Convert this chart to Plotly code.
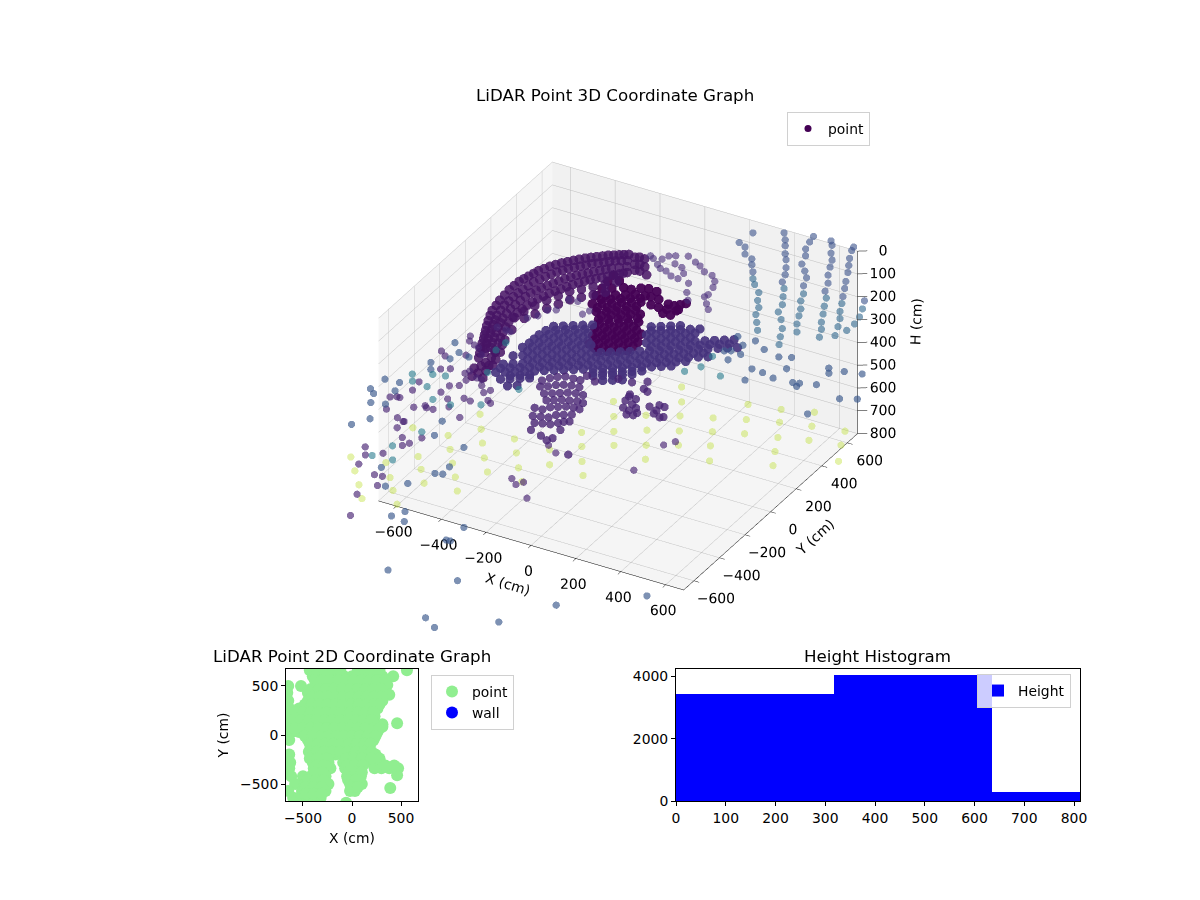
import plotly.graph_objects as go

FONT = "DejaVu Sans"

# floor returns inside the box (cm)
floor_x = [-601,-667,-589,-651,-448,-507,-569,-628,-418,-481,-543,-599,-659,-266,-329,-392,-451,-236,-292,-83,-139,-196,-249,-92,-145,-201,-258,66,16,-38,-97,124,74,20,-27,-83,288,234,188,139,304,257,206,519,473,430,379,545,502,671,632]
floor_y = [-673,-590,-483,-398,-471,-383,-297,-211,-288,-202,-108,-19,77,-286,-201,-107,-19,-121,-23,-128,-38,60,152,129,221,319,417,98,192,292,388,254,349,449,545,643,211,311,407,500,456,552,655,301,397,495,598,536,634,566,665]
floor_h = [795] * len(floor_x)
# floor returns beyond the box limits
floor_out_x = [-729,-799,-713,-839,-691,332,454,719,-938,-873,-807,-745]
floor_out_y = [-504,-414,-312,-133,-116,693,738,462,-444,-527,-611,-696]
floor_out_h = [800] * len(floor_out_x)

# right hand scan lines behind the room, top part and lower part
wall_up_x = [202,141,167,167,197,197,202,341,346,346,346,350,350,346,333,472,455,437,437,420,433,441,428,550,555,550,555,546,537,537,524,651,642,633,629,625,616,611,603,699]
wall_up_y = [700] * len(wall_up_x)
wall_up_h = [67,127,139,170,182,208,238,27,56,82,117,142,177,209,244,5,34,70,100,141,168,195,234,2,20,56,85,118,156,191,230,0,18,55,87,119,161,193,231,222]
wall_low_x = [202,210,228,223,228,215,219,223,341,337,333,315,328,333,324,319,428,415,415,407,398,398,529,520,515,507,507,498,598,590,590,581,568,690,677,655,620]
wall_low_y = [700] * len(wall_low_x)
wall_low_h = [268,291,321,357,387,421,454,488,271,308,344,381,411,449,487,523,269,304,339,372,410,445,259,297,333,371,402,439,263,300,331,369,412,260,299,336,374]

# ceiling arc
dome_x = [-452,-482,-507,-531,-559,-584,-597,-604,-602,-590,-577,-555,-528,-498,-467,-433,-400,-365,-334,-452,-479,-504,-528,-550,-563,-564,-560,-551,-532,-510,-484,-453,-423,-388,-355,-317,-451,-476,-502,-520,-529,-527,-520,-504,-481,-458,-432,-402,-371,-341,-295,-411,-442,-467,-486,-492,-486,-474,-456,-433,-410,-383,-354,-324,-293,-272,-410,-417,-482,-474,-458,-438,-416,-394,-363,-333,-302,-272,-429,-414,-389,-398,-380,-406,-363,-304,-277,-254,-288,-261,-235,-264,-234,-198,
          -467,-495,-519,-545,-572,-590,-600,-603,-596,-583,-566,-542,-513,-483,-450,-416,-382,-350,-466,-492,-516,-539,-557,-564,-562,-556,-541,-521,-497,-468,-438,-405,-372,-336,-464,-489,-511,-525,-528,-524,-512,-492,-470,-445,-417,-387,-356,-318,-427,-455,-477,-489,-489,-480,-465,-445,-422,-397,-369,-339,-309,-283,
          -447,-427,-408,-385,-363,-333,-303,-272,-446,-431,-401,-376,-390,-421]
dome_y = [-297,-227,-162,-105,-34,40,122,209,282,336,390,441,486,525,563,594,626,649,670,-252,-188,-115,-50,18,100,171,238,307,365,417,461,499,538,570,602,627,-206,-133,-58,11,87,160,229,284,336,388,432,471,509,547,587,-270,-163,-81,-3,75,142,204,262,313,365,410,448,486,524,548,-315,-228,36,96,153,210,262,313,351,389,428,466,-373,-345,-328,-397,-367,-430,-420,663,617,578,673,627,582,671,619,570,
          -262,-195,-134,-70,3,81,165,246,309,363,415,464,505,544,578,610,637,660,-220,-152,-83,-16,59,135,205,272,336,391,439,480,518,554,586,615,-170,-96,-24,49,123,195,257,310,362,410,452,490,528,567,-217,-122,-42,36,108,173,233,288,339,388,429,467,505,536,
          50,100,158,209,260,298,337,376,-49,-129,-218,-320,-274,-168]
dome_h = [300] * len(dome_x)

# chains right of the arc and returns under it
chain_x = [-256,-236,-200,-176,-193,-171,-127,-81,-51,-15,25,56,73,84,79,112,140,-25,3,36,-144,-107,-78,-78,-111,-146,-204,-437,-410,-398,-370,-366,-330,-266,-255,-445,-465,-505]
chain_y = [703,690,659,639,736,751,772,747,731,701,692,658,615,558,537,495,460,595,532,482,697,686,650,605,609,632,703,57,93,147,166,258,264,189,224,-66,-61,-60]
chain_h = [300] * len(chain_x)

# dark mass in the middle
mass_x = [-308,-305,-267,-297,-265,-227,-195,-167,-139,-101,-290,-258,-227,-195,-164,-124,-272,-241,-209,-178,-146,-115,-71,-35,-2,11,27,42,1,33,37,-229,-197,-166,-134,-103,-192,-161,-129,-98,-66,-175,-143,-112,-80,-49,-151,-120,-88,-57,-25,6,-133,-101,-70,-38,-7,25,-74,-43,-11,20,
          -259,-228,-196,-165,-133,-240,-209,-177,-146,-114,-198,-167,-135,-104,-72,-174,-143,-111,-80,-48,-150,-119,-87,-56,-24,-127,-96,-64,-33,-1,-102,-71,-39,-8,24,-101,-65,-15,39]
mass_y = [506,454,479,395,416,442,445,472,483,480,337,358,379,400,421,429,276,297,318,339,360,381,382,379,383,420,438,458,349,352,391,232,253,274,295,316,184,205,226,247,268,123,144,165,186,207,66,87,108,129,150,171,6,27,48,69,90,111,-28,-7,14,35,
          321,342,363,384,405,260,281,302,323,344,216,237,258,279,300,160,181,202,223,244,103,124,145,166,187,47,68,89,110,131,-10,11,32,53,74,434,432,420,402]
mass_h = [300] * len(mass_x)

# wide sheet across the room
sheet_x = [-328,-297,-265,-234,-202,12,43,75,106,-336,-305,-273,-242,-210,-179,26,57,89,120,152,183,-344,-312,-281,-249,-218,-186,-155,-123,56,87,119,150,182,213,245,276,308,339,-344,-313,-281,-250,-218,-187,-155,-124,-92,-61,-30,2,33,65,96,128,159,191,222,254,285,317,348,380,-346,-314,-283,-251,-220,-188,-157,-125,-94,-62,-31,0,32,63,95,126,158,189,221,252,284,315,-341,-310,-278,-247,-215,-184,-152,-121,-89,-58,-26,5,37,68,100,131,163,194,226,-299,-268,-236,-205,0,31,63,94,126,-250,-219,
           -282,-251,-219,-188,-156,-125,-93,-62,-30,1,33,64,96,127,159,190,222,253,285,-313,-282,-250,-219,-187,-156,-124,87,118,150,181,213,244,276,307,339,-340,-309,-277,-246,-214,-183,-151,-120,-88,-57,-25,6,38,69,101,132,164,195,227,258,-337,-305,-274,-242,-211,-179,-148,57,88,120,151,183,
           -335,-304,-272,-241,-209,-178,27,58,90,121,153,184,-318,-287,-255,-224,-192,-279,-247,-216,-11,20,52,83,115,146,50,82,113]
sheet_y = [12,33,54,75,96,238,259,280,301,-66,-45,-24,-3,18,39,176,197,218,239,260,281,-144,-123,-102,-81,-60,-39,-18,3,123,144,165,186,207,228,249,270,291,312,-217,-196,-175,-154,-133,-112,-91,-70,-49,-28,-7,14,35,56,77,98,119,140,161,182,203,224,245,266,-291,-270,-249,-228,-207,-186,-165,-144,-123,-102,-81,-60,-39,-18,3,24,45,66,87,108,129,150,-359,-339,-318,-297,-276,-255,-234,-213,-192,-171,-150,-129,-108,-87,-66,-45,-24,-3,18,-395,-374,-353,-332,-196,-175,-154,-133,-112,-426,-405,
           -212,-191,-170,-149,-128,-107,-86,-65,-44,-23,-2,19,40,61,82,103,124,145,166,-159,-138,-117,-96,-75,-54,-33,107,128,149,170,191,212,233,254,275,-323,-302,-281,-260,-239,-218,-197,-176,-155,-134,-113,-92,-71,-50,-29,-8,13,34,55,76,-103,-82,-61,-40,-19,2,23,159,180,201,222,243,
           -29,-8,13,34,55,76,212,233,254,275,296,317,54,75,96,117,138,-354,-333,-312,-176,-155,-134,-113,-92,-71,-208,-187,-166]
sheet_h = [300] * len(sheet_x)

# lump under the sheet and small clusters
lump_x = [-239,-222,-201,-175,-142,-112,-223,-198,-176,-151,-122,-89,-184,-158,-133,-108,-79,-47,-151,-126,-101,-72,-43,-17,-162,-130,-112,-87,-61,-32,-6,-138,-109,-80,-63,-38,-12,7,-106,-77,-48,-27,-12,-92,-37,0,12,7,126,135,165,180,153,172,197,202,116,113,220,260,294,306,257,248,272,108,146,134,157,-58,-106,11,70,120]
lump_y = [-175,-144,-121,-104,-101,-99,-218,-201,-177,-161,-151,-147,-256,-239,-222,-205,-194,-191,-296,-280,-263,-253,-243,-244,-368,-364,-334,-317,-300,-291,-291,-425,-414,-404,-374,-358,-341,-391,-467,-456,-446,-422,-404,-520,-539,-558,-533,-464,-611,-197,-204,-175,-158,-236,-228,-206,-146,-112,-140,-177,-191,-182,-151,-112,-114,-97,-117,-34,-46,-80,-58,-17,-14,20]
lump_h = [400] * len(lump_x)

# scattered returns, by shade
purple_x = [-688,-657,-623,-592,-590,-631,-647,-600,-576,-540,-518,-526,-496,-499,-531,-536,-488,-454,-435,-404,-469,-446,-423,-390,-376,-347,-327,-648,-639,-689,-667,-654,-656,-587,-571,-538,-527,-498,-550,-378,-550,-553,-496,-429,-466,-451,-586,-555,-502,-543,-451,-418,-400,-436,-379,26,62,79,150,78,25,405,411,438]
purple_y = [-174,-199,-294,-273,-154,-54,-20,-71,-81,-121,-251,-275,-318,-366,-387,-445,-476,-526,-441,-447,-282,-285,-324,-366,-338,-409,-423,-419,-486,-574,-559,-559,-661,-696,-596,-564,-575,-573,-708,-575,-762,-710,-817,-782,-869,-841,-949,-1002,-957,-1075,-1114,-1110,-1180,-1276,-1428,-877,-908,-878,-976,-624,-587,-588,-365,-321]
purple_h = [400] * len(purple_x)
slate_x = [-674,-623,-573,-681,-630,-711,-773,-786,-757,-695,-678,-733,-675,-716,-655,-423,-396,-455,-371,-306,-252,-223,-228,-252,-210,-239,-175,47,35,52,-48,225,257,323,519,649,919,442,473,529,539,514,469,392,330,254,304,263,285,331,309,679,698,744,813,699,611,637,639,423,830,891,779]
slate_y = [-93,-150,-161,-269,-208,-461,-467,-557,-583,-524,-630,-648,-755,-828,-315,-633,-741,-1053,-1169,-1108,-990,-980,-919,-764,-1298,-1353,-1365,-1289,-1406,-1404,-1715,-1651,-1956,-2003,-1844,-1623,-1388,217,300,284,372,455,434,455,495,490,442,369,383,378,318,456,423,463,482,324,293,301,275,304,276,307,115]
slate_h = [400] * len(slate_x)
teal_x = [-700,-673,-630,-581,-603,-536,-456,-354,-284,-503,-508,-453,-452,-498,-445,-530,244,344,206,244]
teal_y = [-381,-427,-344,-330,-435,-508,-509,-451,-277,4,-63,-226,-742,-890,-982,-993,220,196,159,311]
teal_h = [400] * len(teal_x)

hist_left = [0, 318, 636]
hist_width = [318, 318, 176]
hist_count = [3430, 4040, 280]

# top view, same points as green discs
point_x = [-400,-320,-240,-160,-80,0,80,160,240,310,420,-300,-220,-140,-60,20,100,180,260,360,-650,-520,-660,-450,-370,-290,-210,-130,-50,30,110,190,270,380,-650,-450,-370,-290,-210,-130,-50,30,110,190,270,310,-640,-540,-450,-370,-290,-210,-130,-50,30,110,190,260,-620,-540,-460,-380,-300,-220,-140,-60,20,100,180,230,-640,-560,-480,-400,-320,-240,-160,-80,0,80,160,240,310,460,-620,-540,-460,-380,-300,-220,-140,-60,20,100,180,260,310,-640,-450,-380,-300,-220,-140,-60,20,100,170,220,-420,-340,-260,-180,-100,-20,60,-640,-410,-330,-250,-170,-90,-10,80,170,240,-630,-400,-320,-240,-90,-10,60,140,220,290,-640,-390,-310,-220,-70,10,90,230,300,380,470,-620,-500,-420,-340,-270,-50,30,90,460,-580,-480,-400,-320,-240,-20,50,100,-650,-510,-430,-350,-270,30,-20,390,-600,-540,-460,-380,-320,-60,-590,560,
           -430,-360,-280,-200,-120,60,130,200,280,-380,-300,-220,-140,-60,20,100,180,260,340,-420,-340,-260,-180,-100,-20,60,140,220,300,-410,-330,-250,-170,-90,-10,70,150,230,300,-480,-410,-330,-250,-170,-90,-10,70,150,230,280,-580,-500,-420,-340,-260,-180,-100,-20,60,140,220,-600,-520,-440,-360,-280,-200,-120,-40,40,120,200,-660,-580,-500,-420,-340,-260,-180,-100,-20,60,140,220,280,-480,-400,-320,-240,-160,-80,0,80,160,240,-430,-350,-270,-190,-110,-30,50,130,190,-440,-360,-280,-200,-120,-40,40,120,200,-430,-350,-260,-60,20,100,200,280,-360,-280,-50,30,110,340,430,-380,-300,-40,40,100,-450,-370,-290,-40,40,-470,-390,-310,-10,60,-470,-390,-310]
point_y = [600,600,600,600,600,600,600,600,600,600,600,520,520,520,520,520,520,520,520,510,500,500,430,430,430,430,430,430,430,430,430,430,430,410,350,350,350,350,350,350,350,350,350,350,350,350,270,270,270,270,270,270,270,270,270,270,270,270,190,190,190,190,190,190,190,190,190,190,190,190,110,110,110,110,110,110,110,110,110,110,110,110,110,120,30,30,30,30,30,30,30,30,30,30,30,30,85,-50,-50,-50,-50,-50,-50,-50,-50,-50,-50,-50,-130,-130,-130,-130,-130,-130,-130,-200,-200,-200,-200,-200,-200,-200,-200,-200,-200,-280,-280,-280,-280,-280,-280,-280,-280,-280,-280,-340,-340,-340,-340,-340,-340,-340,-340,-340,-340,-340,-420,-420,-420,-420,-420,-420,-420,-420,-410,-500,-500,-500,-500,-500,-500,-500,-500,-570,-570,-570,-570,-570,-570,-570,-540,-640,-640,-640,-640,-640,-690,-690,660,
           660,660,660,660,660,660,660,660,660,560,560,560,560,560,560,560,560,560,560,470,470,470,470,470,470,470,470,470,470,390,390,390,390,390,390,390,390,390,390,310,310,310,310,310,310,310,310,310,310,310,230,230,230,230,230,230,230,230,230,230,230,150,150,150,150,150,150,150,150,150,150,150,70,70,70,70,70,70,70,70,70,70,70,70,70,-10,-10,-10,-10,-10,-10,-10,-10,-10,-10,-90,-90,-90,-90,-90,-90,-90,-90,-90,-170,-170,-170,-170,-170,-170,-170,-170,-170,-240,-240,-240,-240,-240,-240,-240,-240,-310,-310,-310,-310,-310,-310,-310,-380,-380,-380,-380,-380,-460,-460,-460,-460,-460,-530,-530,-530,-530,-530,-600,-600,-600]
wall_x = [None]
wall_y = [None]

ticks_xy = [-600, -400, -200, 0, 200, 400, 600]
ticks_h = [0, 100, 200, 300, 400, 500, 600, 700, 800]
labels_xy = ["\u2212600", "\u2212400", "\u2212200", "0", "200", "400", "600"]
labels_h = ["0", "100", "200", "300", "400", "500", "600", "700", "800"]


# the page puts an 8 px margin around the figure
def fx(px):
    return (px - 8) / 1200


def fy(py):
    return 1 - (py - 8) / 900


camera = dict(
    eye=dict(x=0.425 * 2.0, y=-0.746 * 2.0, z=0.512 * 2.0),
    center=dict(x=0, y=0, z=0),
    up=dict(x=0, y=0, z=1),
    projection=dict(type="orthographic"),
)
scale = 1.167
z_ratio = 0.605
out = 3  # scene2 shares the view of scene but has wider limits, for returns past the box
dom3d = dict(x=[fx(326), fx(910)], y=[fy(677), fy(75)])


def axis3d(rng, ticks, bg, show=True):
    return dict(
        title=dict(text=""), range=rng, tickvals=ticks, showticklabels=False,
        showbackground=True, backgroundcolor=bg, gridcolor="#bdbdbd", gridwidth=1,
        showline=show, linecolor="black", linewidth=1, ticks="outside" if show else "", ticklen=6,
        tickcolor="black", zeroline=False, showspikes=False,
    )


def cloud(x, y, h, shade, alpha, scene="scene2", size=4.2):
    return go.Scatter3d(x=x, y=y, z=h, mode="markers", scene=scene, showlegend=False,
                        marker=dict(size=size, color=[shade] * len(x), colorscale="Viridis", cmin=0, cmax=1,
                                    opacity=alpha, line=dict(width=0)))


fig = go.Figure()
fig.add_trace(cloud(floor_x, floor_y, floor_h, 0.9, 0.4, scene="scene"))
fig.add_trace(cloud(mass_x, mass_y, mass_h, 0.0, 0.95, size=5.6))
fig.add_trace(cloud(floor_out_x, floor_out_y, floor_out_h, 0.9, 0.4))
fig.add_trace(cloud(wall_up_x, wall_up_y, wall_up_h, 0.25, 0.6))
fig.add_trace(cloud(wall_low_x, wall_low_y, wall_low_h, 0.33, 0.6))
fig.add_trace(cloud(dome_x, dome_y, dome_h, 0.05, 0.85, size=5.6))
fig.add_trace(cloud(chain_x, chain_y, chain_h, 0.12, 0.6))
fig.add_trace(cloud(sheet_x, sheet_y, sheet_h, 0.14, 0.9, size=5.4))
fig.add_trace(cloud(lump_x, lump_y, lump_h, 0.1, 0.8, size=4.8))
fig.add_trace(cloud(purple_x, purple_y, purple_h, 0.1, 0.65))
fig.add_trace(cloud(slate_x, slate_y, slate_h, 0.27, 0.65))
fig.add_trace(cloud(teal_x, teal_y, teal_h, 0.42, 0.6))

# the H axis sits on the right edge, tick labels stay horizontal
z_line_x, z_line_y, z_line_h = [680, 680, None], [680, 680, None], [0, 800, None]
for t in ticks_h:
    z_line_x += [680, 712, None]
    z_line_y += [680, 700, None]
    z_line_h += [t, t, None]
fig.add_trace(go.Scatter3d(x=z_line_x, y=z_line_y, z=z_line_h, mode="lines", scene="scene2", showlegend=False,
                           line=dict(color="black", width=1)))
text3d = dict(mode="text", scene="scene2", showlegend=False, textposition="middle center",
              textfont=dict(family=FONT, size=13.9, color="black"))
fig.add_trace(go.Scatter3d(x=[t + 85 for t in ticks_xy], y=[-850] * 7, z=[800] * 7, text=labels_xy, **text3d))
fig.add_trace(go.Scatter3d(x=[819] * 7, y=[t - 70 for t in ticks_xy], z=[800] * 7, text=labels_xy, **text3d))
fig.add_trace(go.Scatter3d(x=[762] * 9, y=[735] * 9, z=ticks_h, text=labels_h, **text3d))

# legend entry of the 3D cloud
fig.add_trace(go.Scatter(x=[None], y=[None], mode="markers", name="point", legend="legend",
                         xaxis="x", yaxis="y", marker=dict(size=7, color="#440154")))
fig.add_trace(go.Scatter(x=point_x, y=point_y, mode="markers", name="point", legend="legend2",
                         xaxis="x", yaxis="y", marker=dict(size=12, color="lightgreen")))
fig.add_trace(go.Scatter(x=wall_x, y=wall_y, mode="markers", name="wall", legend="legend2",
                         xaxis="x", yaxis="y", marker=dict(size=12, color="blue")))
fig.add_trace(go.Bar(x=hist_left, y=hist_count, width=hist_width, offset=0, name="Height", legend="legend3",
                     xaxis="x2", yaxis="y2", marker=dict(color="blue", line=dict(width=0))))

ax2d = dict(showgrid=False, zeroline=False, showline=True, mirror=True, linecolor="black", linewidth=1,
            ticks="outside", ticklen=4, tickcolor="black", tickfont=dict(family=FONT, size=13.9, color="black"))
box_legend = dict(bgcolor="rgba(255,255,255,0.8)", bordercolor="#d0d0d0", borderwidth=1,
                  font=dict(family=FONT, size=13.9, color="black"), xanchor="left", yanchor="top")


def note(text, px, py, size=16.7, angle=0):
    return dict(text=text, x=fx(px), y=fy(py), xref="paper", yref="paper", xanchor="center", yanchor="middle",
                showarrow=False, textangle=angle, font=dict(family=FONT, size=size, color="black"))


fig.update_layout(
    width=1200, height=900, autosize=False, paper_bgcolor="white", plot_bgcolor="white",
    margin=dict(l=0, r=0, t=0, b=0, autoexpand=False), font=dict(family=FONT, size=13.9, color="black"),
    bargap=0,
    scene=dict(
        domain=dom3d,
        xaxis=axis3d([-680, 680], ticks_xy, "#f6f6f6"),
        yaxis=axis3d([-680, 680], ticks_xy, "#f1f1f1"),
        zaxis=axis3d([800, 0], ticks_h, "#f5f5f5", show=False),
        aspectmode="manual", aspectratio=dict(x=scale, y=scale, z=z_ratio * scale), camera=camera,
    ),
    scene2=dict(
        domain=dom3d,
        xaxis=dict(visible=False, range=[-680 * out, 680 * out]),
        yaxis=dict(visible=False, range=[-680 * out, 680 * out]),
        zaxis=dict(visible=False, range=[400 + 400 * out, 400 - 400 * out]),
        aspectmode="manual", aspectratio=dict(x=scale * out, y=scale * out, z=z_ratio * scale * out), camera=camera,
    ),
    xaxis=dict(ax2d, domain=[fx(286), fx(418)], range=[-673, 673], tickvals=[-500, 0, 500], anchor="y",
               title=dict(text="X (cm)", standoff=8, font=dict(size=13.9))),
    yaxis=dict(ax2d, domain=[fy(801), fy(669)], range=[-673, 673], tickvals=[-500, 0, 500], anchor="x",
               title=dict(text="Y (cm)", standoff=8, font=dict(size=13.9))),
    xaxis2=dict(ax2d, domain=[fx(676), fx(1080)], range=[0, 812], anchor="y2",
                tickvals=[0, 100, 200, 300, 400, 500, 600, 700, 800]),
    yaxis2=dict(ax2d, domain=[fy(801), fy(669)], range=[0, 4240], tickvals=[0, 2000, 4000], anchor="x2"),
    legend=dict(box_legend, x=fx(787), y=fy(112)),
    legend2=dict(box_legend, x=fx(431), y=fy(675)),
    legend3=dict(box_legend, x=fx(977), y=fy(674)),
    annotations=[
        note("LiDAR Point 3D Coordinate Graph", 615, 95),
        note("LiDAR Point 2D Coordinate Graph", 352, 656),
        note("Height Histogram", 877, 656),
        note("X (cm)", 508, 584, size=13.9, angle=17),
        note("Y (cm)", 815, 537, size=13.9, angle=-42),
        note("H (cm)", 916, 322, size=13.9, angle=-88),
    ],
)

fig.write_html("out.html")
